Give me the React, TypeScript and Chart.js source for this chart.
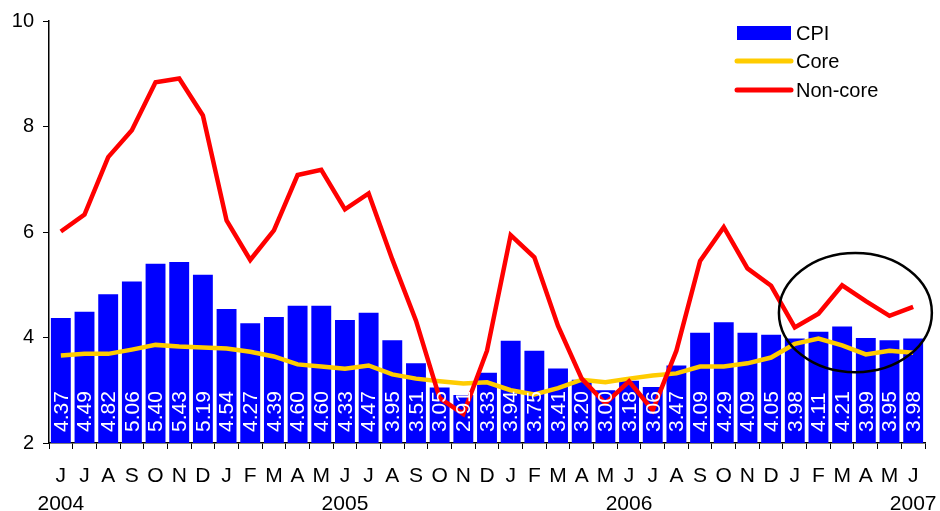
import { useEffect, useRef } from "react";
import { Chart, registerables } from "chart.js";

Chart.register(...registerables);

// Monthly series, June 2004 – June 2007
const months = [
  "J", "J", "A", "S", "O", "N", "D",
  "J", "F", "M", "A", "M", "J", "J", "A", "S", "O", "N", "D",
  "J", "F", "M", "A", "M", "J", "J", "A", "S", "O", "N", "D",
  "J", "F", "M", "A", "M", "J",
];
const yearAt: Record<number, string> = { 0: "2004", 12: "2005", 24: "2006", 36: "2007" };

const cpi = [
  4.37, 4.49, 4.82, 5.06, 5.40, 5.43, 5.19,
  4.54, 4.27, 4.39, 4.60, 4.60, 4.33, 4.47, 3.95, 3.51, 3.05, 2.91, 3.33,
  3.94, 3.75, 3.41, 3.20, 3.00, 3.18, 3.06, 3.47, 4.09, 4.29, 4.09, 4.05,
  3.98, 4.11, 4.21, 3.99, 3.95, 3.98,
];
const core = [
  3.66, 3.69, 3.69, 3.77, 3.86, 3.83, 3.81,
  3.79, 3.73, 3.64, 3.49, 3.45, 3.41, 3.47, 3.30, 3.22, 3.17, 3.13, 3.15,
  3.00, 2.92, 3.04, 3.20, 3.15, 3.22, 3.28, 3.32, 3.45, 3.45, 3.51, 3.62,
  3.88, 3.98, 3.85, 3.68, 3.75, 3.71,
];
const nonCore = [
  6.01, 6.33, 7.42, 7.93, 8.84, 8.91, 8.21,
  6.22, 5.47, 6.03, 7.08, 7.18, 6.43, 6.73, 5.48, 4.32, 2.85, 2.55, 3.75,
  5.94, 5.52, 4.22, 3.22, 2.75, 3.17, 2.62, 3.75, 5.45, 6.09, 5.31, 4.98,
  4.19, 4.45, 4.99, 4.69, 4.41, 4.58,
];

const yMin = 2;
const yMax = 10;
const yStep = 2;

// Highlight ring around the first half of 2007 (category index / value units)
const ringCenterIndex = 33.56;
const ringCenterValue = 4.47;
const ringHalfWidthCats = 3.23;
const ringHalfHeightVal = 1.13;

const FONT = "'Liberation Sans', Arial, sans-serif";

// Vertical white value labels at the foot of each CPI bar
const barValueLabels = {
  id: "barValueLabels",
  afterDraw(chart: any) {
    const { ctx, scales } = chart;
    const values = chart.data.datasets[0].data as number[];
    const basePx = scales.y.getPixelForValue(yMin);
    ctx.save();
    ctx.fillStyle = "#ffffff";
    ctx.font = `21px ${FONT}`;
    ctx.textAlign = "left";
    ctx.textBaseline = "middle";
    values.forEach((v: number, i: number) => {
      const x = scales.x.getPixelForValue(i);
      ctx.save();
      ctx.translate(x + 1, basePx - 11);
      ctx.rotate(-Math.PI / 2);
      ctx.fillText(Number(v).toFixed(2), 0, 0);
      ctx.restore();
    });
    ctx.restore();
  },
};

const ring = {
  id: "ring",
  afterDraw(chart: any) {
    const { ctx, scales } = chart;
    const x0 = scales.x.getPixelForValue(0);
    const x1 = scales.x.getPixelForValue(1);
    const step = x1 - x0;
    const cx = x0 + step * ringCenterIndex;
    const cy = scales.y.getPixelForValue(ringCenterValue);
    const rx = step * ringHalfWidthCats;
    const ry = Math.abs(scales.y.getPixelForValue(ringCenterValue + ringHalfHeightVal) - cy);
    ctx.save();
    ctx.strokeStyle = "#000000";
    ctx.lineWidth = 2.5;
    ctx.beginPath();
    ctx.ellipse(cx, cy, rx, ry, 0, 0, Math.PI * 2);
    ctx.stroke();
    ctx.restore();
  },
};

const sideLegend = {
  id: "sideLegend",
  afterDraw(chart: any) {
    const ctx = chart.ctx;
    const left = 737;
    const swatchW = 54;
    const rows = [33, 61, 90];
    ctx.save();
    ctx.font = `20px ${FONT}`;
    ctx.textBaseline = "middle";
    ctx.textAlign = "left";
    chart.data.datasets.forEach((ds: any, i: number) => {
      const y = rows[i];
      if (ds.type === "bar") {
        ctx.fillStyle = ds.backgroundColor;
        ctx.fillRect(left, y - 7, swatchW, 14);
      } else {
        ctx.strokeStyle = ds.borderColor;
        ctx.lineWidth = 5;
        ctx.lineCap = "round";
        ctx.beginPath();
        ctx.moveTo(left, y);
        ctx.lineTo(left + swatchW, y);
        ctx.stroke();
      }
      ctx.fillStyle = "#000000";
      ctx.fillText(ds.label, left + swatchW + 5, y + 1);
    });
    ctx.restore();
  },
};

export default function App() {
  const canvasRef = useRef<HTMLCanvasElement | null>(null);

  useEffect(() => {
    document.body.style.margin = "0";
    const canvas = canvasRef.current;
    if (!canvas) return;
    const labels = months.map((m, i) => (yearAt[i] ? [m, yearAt[i]] : m));
    const chart = new Chart(canvas, {
      type: "bar",
      data: {
        labels,
        datasets: [
          {
            type: "bar",
            label: "CPI",
            data: cpi,
            backgroundColor: "#0000ff",
            borderWidth: 0,
            barPercentage: 0.84,
            categoryPercentage: 1,
            order: 3,
          } as any,
          {
            type: "line",
            label: "Core",
            data: core,
            borderColor: "#ffcc00",
            backgroundColor: "#ffcc00",
            borderWidth: 4.5,
            pointRadius: 0,
            tension: 0,
            order: 2,
          },
          {
            type: "line",
            label: "Non-core",
            data: nonCore,
            borderColor: "#ff0000",
            backgroundColor: "#ff0000",
            borderWidth: 4.5,
            pointRadius: 0,
            tension: 0,
            order: 1,
          },
        ],
      },
      options: {
        animation: false,
        responsive: false,
        maintainAspectRatio: false,
        layout: { padding: { top: 18, right: 15, left: 0, bottom: 0 } },
        plugins: {
          legend: { display: false },
          tooltip: { enabled: false },
        },
        scales: {
          x: {
            offset: true,
            grid: {
              display: true,
              offset: true,
              drawOnChartArea: false,
              drawTicks: true,
              tickLength: 6,
              color: "#000000",
            },
            border: { display: true, color: "#000000", width: 1.5 },
            ticks: {
              color: "#000000",
              font: { family: FONT, size: 21, lineHeight: 1.33 },
              maxRotation: 0,
              minRotation: 0,
              autoSkip: false,
              padding: 13,
            },
            afterFit(scale: any) {
              scale.height = 68;
              scale.paddingLeft = 0;
              scale.paddingRight = 0;
            },
          },
          y: {
            min: yMin,
            max: yMax,
            grid: {
              display: true,
              drawOnChartArea: false,
              drawTicks: true,
              tickLength: 6,
              color: "#000000",
            },
            border: { display: true, color: "#000000", width: 1.5 },
            ticks: {
              stepSize: yStep,
              color: "#000000",
              font: { family: FONT, size: 20 },
              padding: 9,
            },
            afterFit(scale: any) {
              scale.width = 49;
            },
          },
        },
      },
      plugins: [barValueLabels, ring, sideLegend],
    });
    return () => chart.destroy();
  }, []);

  return (
    <div style={{ width: 940, height: 511, background: "#ffffff" }}>
      <canvas ref={canvasRef} width={940} height={511} style={{ display: "block" }} />
    </div>
  );
}
